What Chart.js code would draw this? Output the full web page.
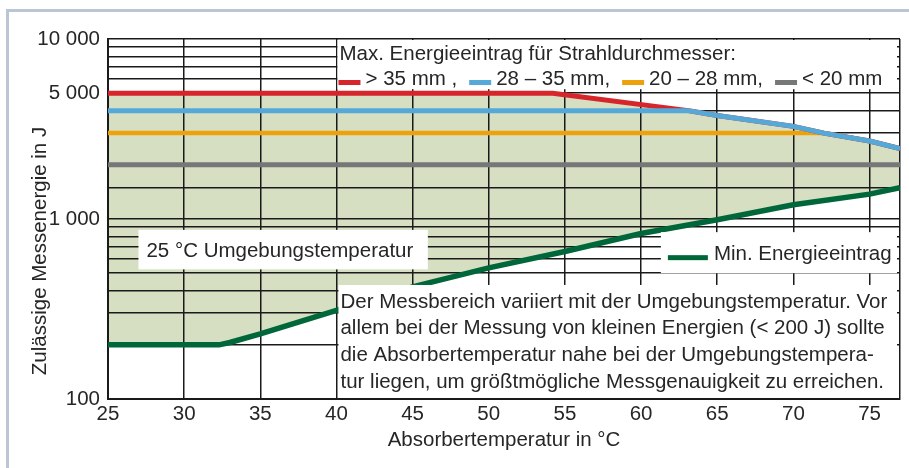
<!DOCTYPE html>
<html>
<head>
<meta charset="utf-8">
<script src="https://cdn.jsdelivr.net/npm/chart.js@4.4.0/dist/chart.umd.min.js"></script>
<style>
  html, body { margin: 0; padding: 0; background: #fff; }
  #wrap { position: relative; width: 909px; height: 468px; overflow: hidden; }
  #frame { position: absolute; left: 6px; top: 9px; width: 1000px; height: 1000px;
           border-top: 3px solid #bac6d4; border-left: 3px solid #bac6d4; }
  canvas { position: absolute; left: 0; top: 0; }
</style>
</head>
<body>
<div id="wrap">
  <div id="frame"></div>
  <canvas id="energyChart" width="909" height="468"></canvas>
</div>
<script>
// tick positions / labels
const xTicks = [25, 30, 35, 40, 45, 50, 55, 60, 65, 70, 75, 77];
const yLabelValues = [100, 1000, 5000, 10000];

// max energy per beam diameter (J) over absorber temperature (°C)
const redTemps = [25, 54.2, 63.1, 65, 70, 72, 75, 77];
const redEnergy = [5000, 5000, 4000, 3760, 3270, 3000, 2710, 2460];
const blueTemps = [25, 63.1, 65, 70, 72, 75, 77];
const blueEnergy = [4000, 4000, 3760, 3270, 3000, 2710, 2460];
const orangeTemps = [25, 72, 75, 77];
const orangeEnergy = [3000, 3000, 2710, 2460];
const grayTemps = [25, 77];
const grayEnergy = [2000, 2000];

// min energy
const minTemps = [25, 32.3, 33, 35, 40, 45, 50, 55, 60, 65, 70, 75, 77];
const minEnergy = [200, 200, 206, 230, 311, 420, 535, 660, 830, 990, 1200, 1375, 1495];

// texts
const maxTitle = 'Max. Energieeintrag für Strahldurchmesser:';
const diameterLabels = ['> 35 mm ,', '28 – 35 mm,', '20 – 28 mm,', '< 20 mm'];
const minLabel = 'Min. Energieeintrag';
const ambientNote = '25 °C Umgebungstemperatur';
const noteLines = [
  'Der Messbereich variiert mit der Umgebungstemperatur. Vor',
  'allem bei der Messung von kleinen Energien (< 200 J) sollte',
  'die Absorbertemperatur nahe bei der Umgebungstempera-',
  'tur liegen, um größtmögliche Messgenauigkeit zu erreichen.'
];

const red = '#d7262b', blue = '#55a9d9', orange = '#eda20c', gray = '#767778', green = '#00673b';
const areaFill = '#d6dfc2';
const textColor = '#262626';
const gridColor = '#1a1a1a';
const fontFamily = '"Liberation Sans", Arial, sans-serif';
const textFont = '20.5px ' + fontFamily;

const pts = (xs, ys) => xs.map((x, i) => ({ x: x, y: ys[i] }));
const fmt = v => v >= 1000 ? (v / 1000) + ' 000' : String(v);

const annotations = {
  id: 'annotations',
  afterDatasetsDraw(chart) {
    const { ctx, chartArea: area, scales } = chart;
    const px = v => scales.x.getPixelForValue(v);
    const py = v => scales.y.getPixelForValue(v);
    const box = (l, t, r, b) => {
      ctx.fillStyle = '#fff';
      ctx.fillRect(l, t, r - l, b - t);
      return { l, t, r, b };
    };
    ctx.save();
    ctx.font = textFont;
    ctx.textAlign = 'left';
    ctx.textBaseline = 'alphabetic';

    // legend for the max lines
    const mb = box(px(40) + 1, area.top + 1, area.right - 3, py(5000) - 4);
    ctx.fillStyle = textColor;
    ctx.fillText(maxTitle, mb.l + 2, mb.t + 19.5);
    const maxColors = [red, blue, orange, gray];
    let cx = mb.l + 1;
    diameterLabels.forEach((lab, i) => {
      ctx.fillStyle = maxColors[i];
      ctx.fillRect(cx, mb.t + 40, 22, 5);
      cx += 27;
      ctx.fillStyle = textColor;
      ctx.fillText(lab, cx, mb.t + 45);
      cx += ctx.measureText(lab).width + 12;
    });

    // ambient temperature note
    const ab = box(px(27), py(870), px(46), py(525));
    ctx.fillStyle = textColor;
    ctx.fillText(ambientNote, ab.l + 8, ab.b - 12);

    // legend for the min line
    const nb = box(px(61.3), py(845), area.right - 3, py(500));
    ctx.fillStyle = green;
    ctx.fillRect(nb.l + 7, nb.t + 23, 40, 5);
    ctx.fillStyle = textColor;
    ctx.fillText(minLabel, nb.l + 53, nb.t + 28);

    // description
    const db = box(px(40) + 2, py(430), area.right - 3, area.bottom - 1);
    ctx.fillStyle = textColor;
    noteLines.forEach((line, i) => ctx.fillText(line, db.l + 2, db.t + 22.7 + i * 26.7));

    // y axis title
    ctx.translate(46, 251);
    ctx.rotate(-Math.PI / 2);
    ctx.textAlign = 'center';
    ctx.font = textFont;
    ctx.fillText('Zulässige Messenergie in J', 0, 0);
    ctx.restore();
  }
};

const lineSet = (label, data, color, width, extra) => Object.assign({
  label: label,
  data: data,
  borderColor: color,
  borderWidth: width,
  pointRadius: 0,
  tension: 0,
  fill: false
}, extra || {});

new Chart(document.getElementById('energyChart'), {
  type: 'line',
  data: {
    datasets: [
      lineSet('28 – 35 mm', pts(blueTemps, blueEnergy), blue, 5),
      lineSet('> 35 mm', pts(redTemps, redEnergy), red, 5, { fill: 4, backgroundColor: areaFill }),
      lineSet('20 – 28 mm', pts(orangeTemps, orangeEnergy), orange, 4.5),
      lineSet('< 20 mm', pts(grayTemps, grayEnergy), gray, 5),
      lineSet('Min. Energieeintrag', pts(minTemps, minEnergy), green, 5.5)
    ]
  },
  options: {
    responsive: false,
    animation: false,
    layout: { padding: { left: 0, top: 39, right: 9, bottom: 0 } },
    plugins: {
      legend: { display: false },
      tooltip: { enabled: false },
      filler: { drawTime: 'beforeDraw' }
    },
    scales: {
      x: {
        type: 'linear',
        min: 25,
        max: 77,
        afterBuildTicks: s => { s.ticks = xTicks.map(v => ({ value: v })); },
        afterFit: s => { s.height = 69; },
        ticks: {
          autoSkip: false,
          maxRotation: 0,
          padding: 3,
          color: textColor,
          font: { family: fontFamily, size: 20.5 },
          callback: v => v === 77 ? '' : String(v)
        },
        grid: { color: gridColor, lineWidth: 1.5, drawTicks: false },
        border: { color: gridColor, width: 2 },
        title: {
          display: true,
          text: 'Absorbertemperatur in °C',
          color: textColor,
          font: { family: fontFamily, size: 20.5 },
          padding: { top: 0, bottom: 15 }
        }
      },
      y: {
        type: 'logarithmic',
        min: 100,
        max: 10000,
        afterFit: s => { s.width = 108; },
        ticks: {
          autoSkip: false,
          padding: 8,
          color: textColor,
          font: { family: fontFamily, size: 20.5 },
          callback: v => yLabelValues.some(t => Math.abs(t - v) < 1e-6) ? fmt(v) : ''
        },
        grid: { color: gridColor, lineWidth: 1.5, drawTicks: false },
        border: { color: gridColor, width: 2 }
      }
    }
  },
  plugins: [annotations]
});
</script>
</body>
</html>
